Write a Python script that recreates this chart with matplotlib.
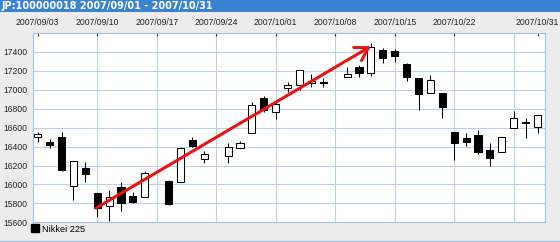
import numpy as np
import matplotlib
matplotlib.use("Agg")
import matplotlib.pyplot as plt
from matplotlib.patches import Rectangle
from matplotlib.lines import Line2D

# ---------------- data ----------------
title = "JP:100000018 2007/09/01 - 2007/10/31"
series_name = "Nikkei 225"
dates = ["2007-09-03", "2007-09-04", "2007-09-05", "2007-09-06", "2007-09-07",
         "2007-09-10", "2007-09-11", "2007-09-12", "2007-09-13", "2007-09-14",
         "2007-09-18", "2007-09-19", "2007-09-20", "2007-09-21",
         "2007-09-25", "2007-09-26", "2007-09-27", "2007-09-28",
         "2007-10-01", "2007-10-02", "2007-10-03", "2007-10-04", "2007-10-05",
         "2007-10-09", "2007-10-10", "2007-10-11", "2007-10-12",
         "2007-10-15", "2007-10-16", "2007-10-17", "2007-10-18", "2007-10-19",
         "2007-10-22", "2007-10-23", "2007-10-24", "2007-10-25", "2007-10-26",
         "2007-10-29", "2007-10-30", "2007-10-31"]
opens = [16505, 16445, 16498, 15980, 16171,
         15907, 15772, 15970, 15881, 15871,
         16037, 16023, 16470, 16269,
         16301, 16382, 16541, 16917,
         16769, 17016, 17051, 17069, 17085,
         17139, 17238, 17175, 17421,
         17412, 17273, 17122, 16964, 16964,
         16558, 16488, 16523, 16364, 16340,
         16594, 16657, 16604]
highs = [16558, 16480, 16551, 16251, 16234,
         15907, 15941, 16029, 15923, 16145,
         16045, 16390, 16498, 16354,
         16435, 16463, 16875, 16938,
         16892, 17086, 17210, 17164, 17122,
         17245, 17263, 17492, 17439,
         17432, 17287, 17122, 17157, 16964,
         16558, 16547, 16576, 16435, 16498,
         16777, 16699, 16734]
lows = [16452, 16389, 16140, 15836, 16029,
        15653, 15610, 15723, 15801, 15871,
        15780, 16023, 16400, 16230,
        16230, 16382, 16541, 16766,
        16689, 16981, 16998, 17033, 17033,
        17139, 17139, 17150, 17281,
        17291, 17097, 16787, 16964, 16706,
        16259, 16406, 16322, 16195, 16340,
        16594, 16488, 16547]
closes = [16530, 16417, 16153, 16251, 16111,
          15754, 15871, 15801, 15818, 16124,
          15794, 16382, 16410, 16319,
          16399, 16442, 16840, 16787,
          16847, 17051, 17210, 17094, 17075,
          17164, 17181, 17456, 17334,
          17361, 17139, 16953, 17104, 16816,
          16435, 16446, 16340, 16283, 16498,
          16699, 16650, 16734]
tick_dates = ["2007-09-03", "2007-09-10", "2007-09-17", "2007-09-24", "2007-10-01",
              "2007-10-08", "2007-10-15", "2007-10-22", "2007-10-31"]
grid_dates = ["2007-09-10", "2007-09-17", "2007-09-24", "2007-10-01",
              "2007-10-08", "2007-10-15", "2007-10-22", "2007-10-29"]
y_ticks = [15600, 15800, 16000, 16200, 16400, 16600, 16800, 17000, 17200, 17400]
arrow_from = (4.9, 15750)
arrow_to = (28.0, 17460)

# ---------------- figure ----------------
W, H = 560, 242
fig = plt.figure(figsize=(W / 100, H / 100), dpi=100, facecolor="#ececec")
ax = fig.add_axes([33 / W, 1 - 222.3 / H, (545 - 33) / W, (222.3 - 33) / H])
ax.set_facecolor("white")

start = "2007-09-03"
def pos(d):
    return np.busday_count(start, d)

x = np.array([pos(d) for d in dates])
o = np.array(opens, float); h = np.array(highs, float)
l = np.array(lows, float); c = np.array(closes, float)
up = c >= o

ax.set_xlim(-0.395, 42.63)
ax.set_ylim(15600, 17600)

# grid
for gd in grid_dates:
    ax.axvline(pos(gd), color="#b9cfec", lw=0.8, zorder=0.5)
for yv in y_ticks[1:]:
    ax.axhline(yv, color="#b9cfec", lw=0.8, zorder=0.5)

# wicks
ax.vlines(x, l, h, color="black", lw=0.75, zorder=2)
# bodies
bottoms = np.minimum(o, c)
heights = np.maximum(np.abs(c - o), 3)
ax.bar(x, heights, bottom=bottoms, width=0.6,
       color=np.where(up, "white", "black"), edgecolor="black",
       linewidth=0.75, zorder=3)

# arrow
ax.annotate("", xy=arrow_to, xytext=arrow_from,
            arrowprops=dict(arrowstyle="->,head_length=0.9,head_width=0.55",
                            color="#ee1111", lw=2.2, shrinkA=0, shrinkB=0),
            zorder=5)

# axes styling
for s in ax.spines.values():
    s.set_color("#a6c0e2")
    s.set_linewidth(0.8)
ax.xaxis.tick_top()
ax.set_xticks([pos(d) for d in tick_dates])
ax.set_xticklabels([d.replace("-", "/") for d in tick_dates],
                   fontsize=6.2, family="Liberation Sans", color="#222222")
ax.tick_params(axis="x", direction="in", length=2.5, width=0.8, color="#333333", pad=4)
ax.set_yticks(y_ticks)
ax.set_yticklabels([str(v) for v in y_ticks], fontsize=6.2,
                   family="Liberation Sans", color="#222222")
ax.tick_params(axis="y", length=0, pad=4)

# title bar
fig.patches.append(Rectangle((0, 1 - 12 / H), 1, 12 / H, transform=fig.transFigure,
                             facecolor="#3a82d4", edgecolor="none", zorder=0))
fig.text(2 / W, 1 - 6.2 / H, title, color="white", fontsize=7, fontweight="bold",
         family="DejaVu Sans", va="center", ha="left")

# bottom line
fig.add_artist(Line2D([0, 1], [1 - 240.5 / H] * 2, transform=fig.transFigure,
                      color="#a6c0e2", lw=1))

# legend
handle = Line2D([], [], marker="s", color="black", linestyle="none", markersize=6)
fig.legend(handles=[handle], labels=[series_name], loc="center left",
           bbox_to_anchor=(31 / W, 1 - 229 / H), frameon=False,
           handlelength=0.8, handletextpad=0.4, borderpad=0, borderaxespad=0,
           prop={"family": "Liberation Sans", "size": 6.6})

fig.savefig("out.png", dpi=100, facecolor=fig.get_facecolor())
